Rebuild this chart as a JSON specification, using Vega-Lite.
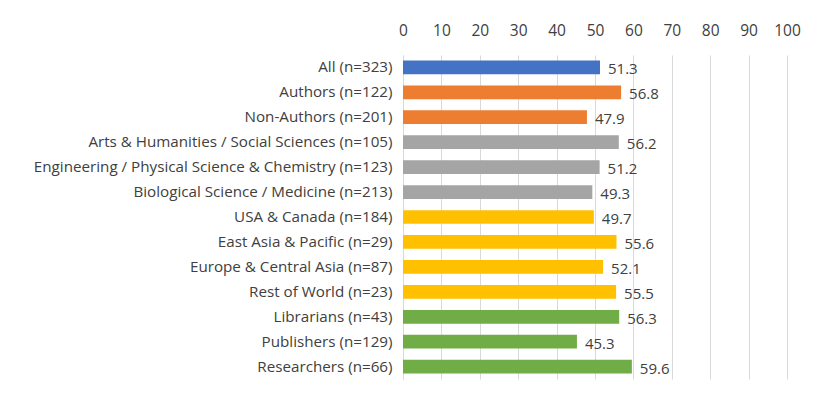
{
  "$schema": "https://vega.github.io/schema/vega-lite/v6.json",
  "autosize": "none",
  "width": 384,
  "height": 324,
  "padding": {"left": 403, "top": 55, "right": 51, "bottom": 31},
  "background": "white",
  "data": {
    "values": [
      {"group": "All (n=323)", "kind": "all", "pct": 51.3},
      {"group": "Authors (n=122)", "kind": "author", "pct": 56.8},
      {"group": "Non-Authors (n=201)", "kind": "author", "pct": 47.9},
      {"group": "Arts & Humanities / Social Sciences (n=105)", "kind": "field", "pct": 56.2},
      {"group": "Engineering / Physical Science & Chemistry (n=123)", "kind": "field", "pct": 51.2},
      {"group": "Biological Science / Medicine (n=213)", "kind": "field", "pct": 49.3},
      {"group": "USA & Canada (n=184)", "kind": "region", "pct": 49.7},
      {"group": "East Asia & Pacific (n=29)", "kind": "region", "pct": 55.6},
      {"group": "Europe & Central Asia (n=87)", "kind": "region", "pct": 52.1},
      {"group": "Rest of World (n=23)", "kind": "region", "pct": 55.5},
      {"group": "Librarians (n=43)", "kind": "role", "pct": 56.3},
      {"group": "Publishers (n=129)", "kind": "role", "pct": 45.3},
      {"group": "Researchers (n=66)", "kind": "role", "pct": 59.6}
    ]
  },
  "encoding": {
    "y": {
      "field": "group",
      "type": "nominal",
      "sort": null,
      "scale": {"paddingInner": 0.45, "paddingOuter": 0.22},
      "axis": {
        "title": null,
        "ticks": false,
        "domainColor": "#d9d9d9",
        "labelPadding": 11,
        "labelFontSize": 15.2,
        "labelColor": "#404040",
        "labelLimit": 500
      }
    },
    "x": {
      "field": "pct",
      "type": "quantitative",
      "scale": {"domain": [0, 100], "nice": false},
      "axis": {
        "orient": "top",
        "title": null,
        "values": [0, 10, 20, 30, 40, 50, 60, 70, 80, 90, 100],
        "domain": false,
        "ticks": false,
        "gridColor": "#d9d9d9",
        "labelFlush": false,
        "labelOverlap": false,
        "labelPadding": 17,
        "labelFontSize": 15.5,
        "labelColor": "#404040"
      }
    }
  },
  "layer": [
    {
      "mark": {"type": "bar"},
      "encoding": {
        "color": {
          "field": "kind",
          "type": "nominal",
          "scale": {
            "domain": ["all", "author", "field", "region", "role"],
            "range": ["#4472C4", "#ED7D31", "#A5A5A5", "#FFC000", "#70AD47"]
          },
          "legend": null
        }
      }
    },
    {
      "mark": {"type": "text", "align": "left", "baseline": "middle", "dx": 8, "dy": 2, "fontSize": 15, "color": "#404040"},
      "encoding": {
        "text": {"field": "pct", "type": "quantitative", "format": ".1f"}
      }
    }
  ],
  "config": {
    "view": {"stroke": null},
    "font": "Open Sans"
  }
}
